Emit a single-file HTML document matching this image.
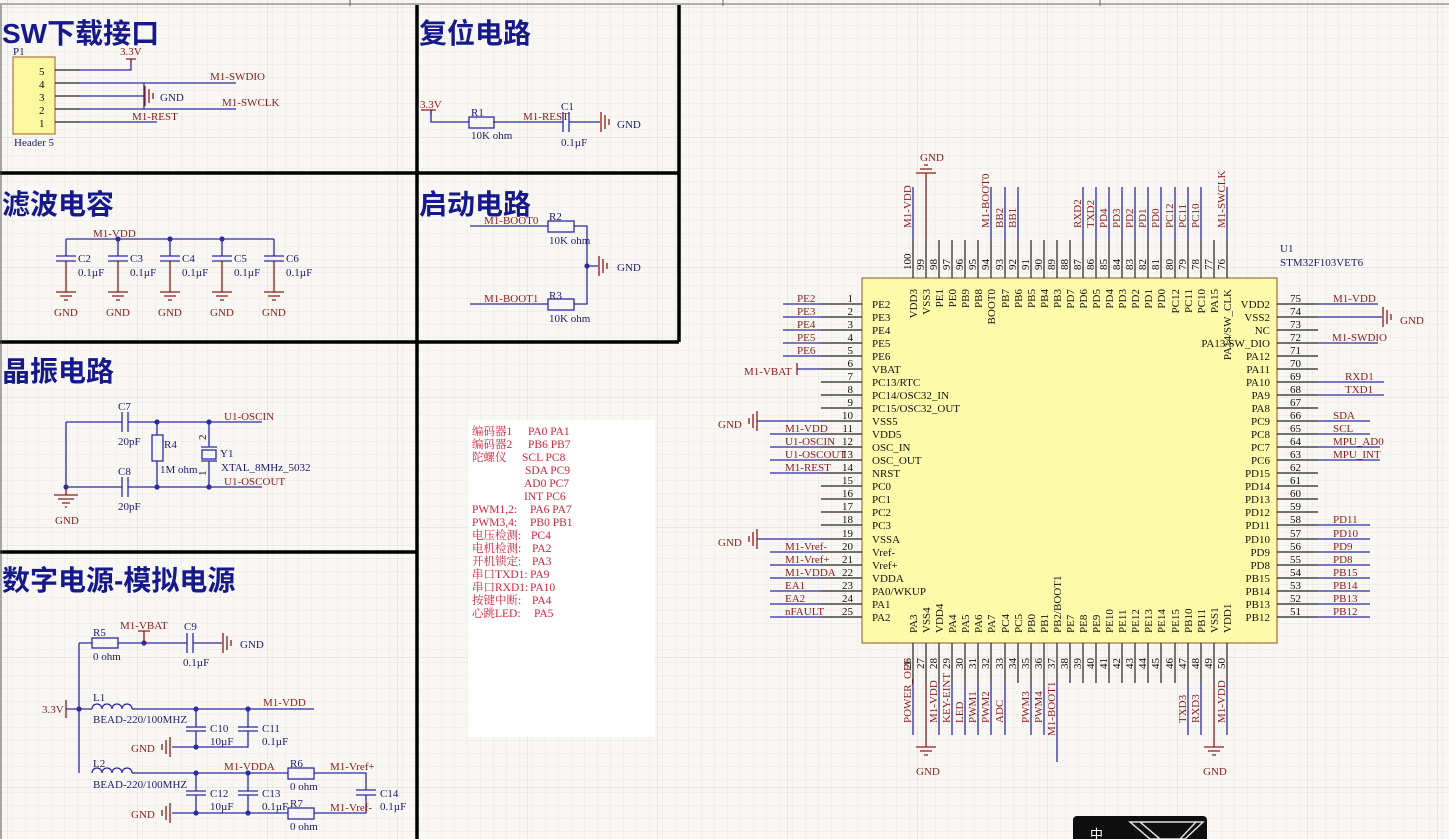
<!DOCTYPE html>
<html><head><meta charset="utf-8"><style>
html,body{margin:0;padding:0;width:1449px;height:839px;overflow:hidden;background:#f8f7f3}
svg{display:block}
text{font-family:"Liberation Serif","Noto Serif CJK SC",serif;font-size:11px}
.t{font-family:"Liberation Sans","Noto Sans CJK SC",sans-serif;font-size:28px;font-weight:bold;fill:#15198a}
.n{fill:#8a1c1c}
.c{fill:#1c1c6a}
.k{fill:#111}
.r{fill:#d0243c;font-size:11.5px}
.w{stroke:#2b2ba3;stroke-width:1.3;fill:none}
.p{stroke:#222;stroke-width:1.2;fill:none}
.g{stroke:#8a1c1c;stroke-width:1.3;fill:none}
.d{fill:#2b2ba3}
</style></head><body>
<svg width="1449" height="839" viewBox="0 0 1449 839" xmlns="http://www.w3.org/2000/svg">
<defs>
<pattern id="mi" width="13" height="13" patternUnits="userSpaceOnUse"><path d="M13 0V13H0" fill="none" stroke="#e9e7e1" stroke-width="1"/></pattern>
<pattern id="ma" width="130" height="130" patternUnits="userSpaceOnUse" x="8" y="8"><path d="M130 0V130H0" fill="none" stroke="#d9d7d1" stroke-width="1"/></pattern>
</defs>
<rect width="1449" height="839" fill="url(#mi)"/>
<rect width="1449" height="839" fill="url(#ma)"/>
<path d="M0 4H1449 M350 0V6 M723 0V6 M1100 0V6" stroke="#666" stroke-width="1"/>
<path d="M417 5V839 M679 5V342 M0 173H679 M0 342H679 M0 552H417" stroke="#000" stroke-width="3.5"/>
<path d="M1 5V839" stroke="#555" stroke-width="1"/>
<rect x="468" y="420" width="187" height="317" fill="#fff"/>
<text class="t" x="2" y="43">SW下载接口</text>
<text class="t" x="419" y="43">复位电路</text>
<text class="t" x="2" y="214">滤波电容</text>
<text class="t" x="419" y="214">启动电路</text>
<text class="t" x="2" y="381">晶振电路</text>
<text class="t" x="2" y="590">数字电源-模拟电源</text>

<rect x="13" y="57" width="42" height="77" fill="#fdf7a0" stroke="#b07838" stroke-width="1.2"/>
<text class="c" x="13" y="55">P1</text>
<text class="c" x="14" y="146">Header 5</text>
<text class="k" x="39" y="75">5</text><text class="k" x="39" y="88">4</text><text class="k" x="39" y="101">3</text><text class="k" x="39" y="114">2</text><text class="k" x="39" y="127">1</text>
<path class="p" d="M55 70H80 M55 83H80 M55 96H80 M55 109H80 M55 122H80"/>
<path class="w" d="M80 70H131V60 M80 83H236 M80 96H144 M80 109H236 M80 122H157 M144 83V109"/>
<path class="g" d="M126 59H136 M131 59V62 M145 86V106 M149 89V103 M153 93V99"/>
<text class="n" x="120" y="55">3.3V</text>
<text class="n" x="210" y="80">M1-SWDIO</text>
<text class="c" x="160" y="101">GND</text>
<text class="n" x="222" y="106">M1-SWCLK</text>
<text class="n" x="132" y="120">M1-REST</text>

<text class="n" x="420" y="108">3.3V</text>
<path class="g" d="M421 110H436 M431 110V115"/>
<path class="w" d="M431 110V122H469 M493 122H563 M569 122H600"/>
<rect x="469" y="117" width="25" height="11" fill="none" stroke="#2b2ba3" stroke-width="1.3"/>
<path class="w" d="M563 112V132 M569 112V132"/>
<path class="g" d="M601 112V132 M605 115V129 M609 119V125"/>
<text class="c" x="471" y="116">R1</text><text class="c" x="471" y="139">10K ohm</text>
<text class="n" x="523" y="120">M1-REST</text>
<text class="c" x="561" y="110">C1</text><text class="c" x="561" y="146">0.1µF</text>
<text class="c" x="617" y="128">GND</text>

<path class="w" d="M66 239H274 M66 239V256 M118 239V256 M170 239V256 M222 239V256 M274 239V256 M56 256H76 M56 261H76 M108 256H128 M108 261H128 M160 256H180 M160 261H180 M212 256H232 M212 261H232 M264 256H284 M264 261H284"/>
<path class="g" d="M66 261V292 M118 261V292 M170 261V292 M222 261V292 M274 261V292 M56 292H76 M60 296H72 M64 300H68 M108 292H128 M112 296H124 M116 300H120 M160 292H180 M164 296H176 M168 300H172 M212 292H232 M216 296H228 M220 300H224 M264 292H284 M268 296H280 M272 300H276"/>
<circle class="d" cx="118" cy="239" r="2.6"/><circle class="d" cx="170" cy="239" r="2.6"/><circle class="d" cx="222" cy="239" r="2.6"/>
<text class="n" x="93" y="237">M1-VDD</text>
<text class="c" x="78" y="262">C2</text><text class="c" x="78" y="276">0.1µF</text>
<text class="c" x="130" y="262">C3</text><text class="c" x="130" y="276">0.1µF</text>
<text class="c" x="182" y="262">C4</text><text class="c" x="182" y="276">0.1µF</text>
<text class="c" x="234" y="262">C5</text><text class="c" x="234" y="276">0.1µF</text>
<text class="c" x="286" y="262">C6</text><text class="c" x="286" y="276">0.1µF</text>
<text class="n" x="54" y="316">GND</text><text class="n" x="106" y="316">GND</text><text class="n" x="158" y="316">GND</text><text class="n" x="210" y="316">GND</text><text class="n" x="262" y="316">GND</text>

<path class="w" d="M470 226H548 M574 226H587V304H574 M548 304H470 M587 266H598"/>
<rect x="548" y="221" width="26" height="11" fill="none" stroke="#2b2ba3" stroke-width="1.3"/>
<rect x="548" y="299" width="26" height="11" fill="none" stroke="#2b2ba3" stroke-width="1.3"/>
<circle class="d" cx="587" cy="266" r="2.6"/>
<path class="g" d="M599 256V276 M603 259V273 M607 263V269"/>
<text class="n" x="484" y="224">M1-BOOT0</text>
<text class="c" x="549" y="220">R2</text><text class="c" x="549" y="244">10K ohm</text>
<text class="c" x="617" y="271">GND</text>
<text class="n" x="484" y="302">M1-BOOT1</text>
<text class="c" x="549" y="299">R3</text><text class="c" x="549" y="322">10K ohm</text>

<path class="w" d="M66 422H122 M128 422H262 M66 422V487H122 M128 487H262 M122 412V432 M128 412V432 M122 477V497 M128 477V497 M157 422V435 M157 461V487 M209 422V447 M209 461V487 M201 447H217 M201 461H217"/>
<rect x="152" y="435" width="11" height="26" fill="none" stroke="#2b2ba3" stroke-width="1.3"/>
<rect x="202" y="450" width="14" height="9" fill="none" stroke="#2b2ba3" stroke-width="1.3"/>
<circle class="d" cx="157" cy="422" r="2.6"/><circle class="d" cx="209" cy="422" r="2.6"/><circle class="d" cx="157" cy="487" r="2.6"/><circle class="d" cx="209" cy="487" r="2.6"/><circle class="d" cx="66" cy="487" r="2.6"/>
<path class="g" d="M66 487V495 M54 495H78 M58 499H74 M62 503H70 M65 507H67"/>
<text class="c" x="118" y="410">C7</text><text class="c" x="118" y="445">20pF</text>
<text class="c" x="164" y="448">R4</text><text class="c" x="160" y="473">1M ohm</text>
<text class="k" transform="translate(206,440) rotate(-90)">2</text>
<text class="k" transform="translate(206,476) rotate(-90)">1</text>
<text class="c" x="220" y="457">Y1</text><text class="c" x="221" y="471">XTAL_8MHz_5032</text>
<text class="n" x="224" y="420">U1-OSCIN</text>
<text class="n" x="224" y="485">U1-OSCOUT</text>
<text class="c" x="118" y="475">C8</text><text class="c" x="118" y="510">20pF</text>
<text class="n" x="55" y="524">GND</text>

<path class="w" d="M79 643H92 M118 643H187 M193 643H222 M187 633V653 M193 633V653 M79 643V773 M66 709H92 M132 709H314 M132 773H288 M314 773H366V790 M366 795V813H314 M288 813H172 M196 709V727 M196 731V747 M248 709V727 M248 731V747H172 M186 727H206 M186 731H206 M238 727H258 M238 731H258 M196 773V791 M196 795V813 M248 773V791 M248 795V813 M186 791H206 M186 795H206 M238 791H258 M238 795H258 M356 790H376 M356 795H376"/>
<rect x="92" y="638" width="26" height="10" fill="none" stroke="#2b2ba3" stroke-width="1.3"/>
<rect x="288" y="768" width="26" height="11" fill="none" stroke="#2b2ba3" stroke-width="1.3"/>
<rect x="288" y="808" width="26" height="11" fill="none" stroke="#2b2ba3" stroke-width="1.3"/>
<path class="w" d="M92 709a5 5 0 0 1 10 0a5 5 0 0 1 10 0a5 5 0 0 1 10 0a5 5 0 0 1 10 0 M92 773a5 5 0 0 1 10 0a5 5 0 0 1 10 0a5 5 0 0 1 10 0a5 5 0 0 1 10 0"/>
<circle class="d" cx="144" cy="643" r="2.6"/><circle class="d" cx="79" cy="709" r="2.6"/>
<circle class="d" cx="196" cy="709" r="2.6"/><circle class="d" cx="248" cy="709" r="2.6"/><circle class="d" cx="196" cy="747" r="2.6"/>
<circle class="d" cx="196" cy="773" r="2.6"/><circle class="d" cx="248" cy="773" r="2.6"/><circle class="d" cx="196" cy="813" r="2.6"/><circle class="d" cx="248" cy="813" r="2.6"/>
<path class="g" d="M138 631H150 M144 631V643 M223 633V653 M227 636V650 M231 640V646 M66 700V718 M170 737V757 M166 740V754 M162 744V750 M170 803V823 M166 806V820 M162 810V816"/>
<text class="c" x="93" y="636">R5</text><text class="c" x="93" y="660">0 ohm</text>
<text class="n" x="120" y="629">M1-VBAT</text>
<text class="c" x="184" y="630">C9</text><text class="c" x="183" y="666">0.1µF</text>
<text class="c" x="240" y="648">GND</text>
<text class="n" x="42" y="713">3.3V</text>
<text class="c" x="93" y="701">L1</text><text class="c" x="93" y="723">BEAD-220/100MHZ</text>
<text class="n" x="263" y="706">M1-VDD</text>
<text class="c" x="210" y="732">C10</text><text class="c" x="210" y="745">10µF</text>
<text class="c" x="262" y="732">C11</text><text class="c" x="262" y="745">0.1µF</text>
<text class="n" x="131" y="752">GND</text>
<text class="c" x="93" y="767">L2</text><text class="c" x="93" y="788">BEAD-220/100MHZ</text>
<text class="n" x="224" y="770">M1-VDDA</text>
<text class="c" x="290" y="767">R6</text><text class="c" x="290" y="790">0 ohm</text>
<text class="n" x="330" y="770">M1-Vref+</text>
<text class="c" x="210" y="797">C12</text><text class="c" x="210" y="810">10µF</text>
<text class="c" x="262" y="797">C13</text><text class="c" x="262" y="810">0.1µF</text>
<text class="c" x="290" y="807">R7</text><text class="c" x="290" y="830">0 ohm</text>
<text class="n" x="330" y="811">M1-Vref-</text>
<text class="c" x="380" y="797">C14</text><text class="c" x="380" y="810">0.1µF</text>
<text class="n" x="131" y="818">GND</text>

<g class="r">
<text class="r" x="472" y="435">编码器1</text><text class="r" x="528" y="435">PA0 PA1</text>
<text class="r" x="472" y="448">编码器2</text><text class="r" x="528" y="448">PB6 PB7</text>
<text class="r" x="472" y="461">陀螺仪</text><text class="r" x="522" y="461">SCL PC8</text>
<text class="r" x="525" y="474">SDA PC9</text>
<text class="r" x="524" y="487">AD0 PC7</text>
<text class="r" x="524" y="500">INT  PC6</text>
<text class="r" x="472" y="513">PWM1,2:</text><text class="r" x="530" y="513">PA6 PA7</text>
<text class="r" x="472" y="526">PWM3,4:</text><text class="r" x="530" y="526">PB0 PB1</text>
<text class="r" x="472" y="539">电压检测:</text><text class="r" x="531" y="539">PC4</text>
<text class="r" x="472" y="552">电机检测:</text><text class="r" x="532" y="552">PA2</text>
<text class="r" x="472" y="565">开机锁定:</text><text class="r" x="532" y="565">PA3</text>
<text class="r" x="472" y="578">串口TXD1:</text><text class="r" x="530" y="578">PA9</text>
<text class="r" x="472" y="591">串口RXD1:</text><text class="r" x="530" y="591">PA10</text>
<text class="r" x="472" y="604">按键中断:</text><text class="r" x="532" y="604">PA4</text>
<text class="r" x="472" y="617">心跳LED:</text><text class="r" x="534" y="617">PA5</text>
</g>

<rect x="862" y="278" width="415" height="365" fill="#fdfbaa" stroke="#a07040" stroke-width="1.2"/>
<text class="c" x="1280" y="252">U1</text><text class="c" x="1280" y="266">STM32F103VET6</text>
<path class="p" d="M821 304H862 M821 317H862 M821 330H862 M821 343H862 M821 356H862 M821 369H862 M821 382H862 M821 395H862 M821 408H862 M821 421H862 M821 434H862 M821 447H862 M821 460H862 M821 473H862 M821 486H862 M821 499H862 M821 512H862 M821 525H862 M821 539H862 M821 552H862 M821 565H862 M821 578H862 M821 591H862 M821 604H862 M821 617H862
M1277 304H1318 M1277 317H1318 M1277 330H1318 M1277 343H1318 M1277 356H1318 M1277 369H1318 M1277 382H1318 M1277 395H1318 M1277 408H1318 M1277 421H1318 M1277 434H1318 M1277 447H1318 M1277 460H1318 M1277 473H1318 M1277 486H1318 M1277 499H1318 M1277 512H1318 M1277 525H1318 M1277 539H1318 M1277 552H1318 M1277 565H1318 M1277 578H1318 M1277 591H1318 M1277 604H1318 M1277 617H1318
M913 240V278 M926 240V278 M939 240V278 M952 240V278 M965 240V278 M978 240V278 M991 240V278 M1005 240V278 M1018 240V278 M1031 240V278 M1044 240V278 M1057 240V278 M1070 240V278 M1083 240V278 M1096 240V278 M1109 240V278 M1122 240V278 M1135 240V278 M1148 240V278 M1161 240V278 M1175 240V278 M1188 240V278 M1201 240V278 M1214 240V278 M1227 240V278
M913 643V683 M926 643V683 M939 643V683 M952 643V683 M965 643V683 M978 643V683 M991 643V683 M1005 643V683 M1018 643V683 M1031 643V683 M1044 643V683 M1057 643V683 M1070 643V683 M1083 643V683 M1096 643V683 M1109 643V683 M1122 643V683 M1135 643V683 M1148 643V683 M1161 643V683 M1175 643V683 M1188 643V683 M1201 643V683 M1214 643V683 M1227 643V683"/>
<path class="w" d="M783 304H821 M783 317H821 M783 330H821 M783 343H821 M783 356H821 M770 434H821 M770 447H821 M770 460H821 M770 473H821 M770 552H821 M770 565H821 M770 578H821 M770 591H821 M770 604H821 M770 617H821 M757 421H821 M757 539H821 M797 369H821
M1318 304H1378 M1318 317H1382 M1318 343H1378 M1318 382H1384 M1318 395H1384 M1318 421H1370 M1318 434H1370 M1318 447H1380 M1318 460H1380 M1318 525H1370 M1318 539H1370 M1318 552H1370 M1318 565H1370 M1318 578H1370 M1318 591H1370 M1318 604H1370 M1318 617H1370
M913 187V240 M991 187V240 M1005 187V240 M1018 187V240 M1083 187V240 M1096 187V240 M1109 187V240 M1122 187V240 M1135 187V240 M1148 187V240 M1161 187V240 M1175 187V240 M1188 187V240 M1201 187V240 M1227 187V240
M913 683V735 M939 683V735 M952 683V735 M965 683V735 M978 683V735 M991 683V735 M1005 683V735 M1031 683V735 M1044 683V735 M1057 683V762 M1188 683V735 M1201 683V735 M1227 683V735"/>
<path class="g" d="M926 240V173 M916 173H936 M920 169H932 M924 165H928 M926 683V747 M916 747H936 M920 751H932 M924 755H928 M1214 683V747 M1204 747H1224 M1208 751H1220 M1212 755H1216 M797 363V375 M757 411V431 M753 414V428 M749 418V424 M757 529V549 M753 532V546 M749 536V542 M1383 307V327 M1387 310V324 M1391 314V320"/>
<text class="n" x="920" y="161">GND</text>
<text class="n" x="916" y="775">GND</text>
<text class="n" x="1203" y="775">GND</text>
<text class="n" x="718" y="428">GND</text>
<text class="n" x="718" y="546">GND</text>
<text class="n" x="1400" y="324">GND</text>
<g class="n">
<text class="n" x="797" y="302">PE2</text><text class="n" x="797" y="315">PE3</text><text class="n" x="797" y="328">PE4</text><text class="n" x="797" y="341">PE5</text><text class="n" x="797" y="354">PE6</text>
<text class="n" x="744" y="375">M1-VBAT</text>
<text class="n" x="785" y="432">M1-VDD</text><text class="n" x="785" y="445">U1-OSCIN</text><text class="n" x="785" y="458">U1-OSCOUT</text><text class="n" x="785" y="471">M1-REST</text>
<text class="n" x="785" y="550">M1-Vref-</text><text class="n" x="785" y="563">M1-Vref+</text><text class="n" x="785" y="576">M1-VDDA</text><text class="n" x="785" y="589">EA1</text><text class="n" x="785" y="602">EA2</text><text class="n" x="785" y="615">nFAULT</text>
</g>
<g text-anchor="end">
<text class="k" x="853" y="302">1</text><text class="k" x="853" y="315">2</text><text class="k" x="853" y="328">3</text><text class="k" x="853" y="341">4</text><text class="k" x="853" y="354">5</text><text class="k" x="853" y="367">6</text><text class="k" x="853" y="380">7</text><text class="k" x="853" y="393">8</text><text class="k" x="853" y="406">9</text><text class="k" x="853" y="419">10</text><text class="k" x="853" y="432">11</text><text class="k" x="853" y="445">12</text><text class="k" x="853" y="458">13</text><text class="k" x="853" y="471">14</text><text class="k" x="853" y="484">15</text><text class="k" x="853" y="497">16</text><text class="k" x="853" y="510">17</text><text class="k" x="853" y="523">18</text><text class="k" x="853" y="537">19</text><text class="k" x="853" y="550">20</text><text class="k" x="853" y="563">21</text><text class="k" x="853" y="576">22</text><text class="k" x="853" y="589">23</text><text class="k" x="853" y="602">24</text><text class="k" x="853" y="615">25</text>
</g>
<text class="k" x="872" y="308">PE2</text><text class="k" x="872" y="321">PE3</text><text class="k" x="872" y="334">PE4</text><text class="k" x="872" y="347">PE5</text><text class="k" x="872" y="360">PE6</text><text class="k" x="872" y="373">VBAT</text><text class="k" x="872" y="386">PC13/RTC</text><text class="k" x="872" y="399">PC14/OSC32_IN</text><text class="k" x="872" y="412">PC15/OSC32_OUT</text><text class="k" x="872" y="425">VSS5</text><text class="k" x="872" y="438">VDD5</text><text class="k" x="872" y="451">OSC_IN</text><text class="k" x="872" y="464">OSC_OUT</text><text class="k" x="872" y="477">NRST</text><text class="k" x="872" y="490">PC0</text><text class="k" x="872" y="503">PC1</text><text class="k" x="872" y="516">PC2</text><text class="k" x="872" y="529">PC3</text><text class="k" x="872" y="543">VSSA</text><text class="k" x="872" y="556">Vref-</text><text class="k" x="872" y="569">Vref+</text><text class="k" x="872" y="582">VDDA</text><text class="k" x="872" y="595">PA0/WKUP</text><text class="k" x="872" y="608">PA1</text><text class="k" x="872" y="621">PA2</text>
<g text-anchor="end">
<text class="k" x="1270" y="308">VDD2</text><text class="k" x="1270" y="321">VSS2</text><text class="k" x="1270" y="334">NC</text><text class="k" x="1270" y="347">PA13/SW_DIO</text><text class="k" x="1270" y="360">PA12</text><text class="k" x="1270" y="373">PA11</text><text class="k" x="1270" y="386">PA10</text><text class="k" x="1270" y="399">PA9</text><text class="k" x="1270" y="412">PA8</text><text class="k" x="1270" y="425">PC9</text><text class="k" x="1270" y="438">PC8</text><text class="k" x="1270" y="451">PC7</text><text class="k" x="1270" y="464">PC6</text><text class="k" x="1270" y="477">PD15</text><text class="k" x="1270" y="490">PD14</text><text class="k" x="1270" y="503">PD13</text><text class="k" x="1270" y="516">PD12</text><text class="k" x="1270" y="529">PD11</text><text class="k" x="1270" y="543">PD10</text><text class="k" x="1270" y="556">PD9</text><text class="k" x="1270" y="569">PD8</text><text class="k" x="1270" y="582">PB15</text><text class="k" x="1270" y="595">PB14</text><text class="k" x="1270" y="608">PB13</text><text class="k" x="1270" y="621">PB12</text>
</g>
<text class="k" x="1290" y="302">75</text><text class="k" x="1290" y="315">74</text><text class="k" x="1290" y="328">73</text><text class="k" x="1290" y="341">72</text><text class="k" x="1290" y="354">71</text><text class="k" x="1290" y="367">70</text><text class="k" x="1290" y="380">69</text><text class="k" x="1290" y="393">68</text><text class="k" x="1290" y="406">67</text><text class="k" x="1290" y="419">66</text><text class="k" x="1290" y="432">65</text><text class="k" x="1290" y="445">64</text><text class="k" x="1290" y="458">63</text><text class="k" x="1290" y="471">62</text><text class="k" x="1290" y="484">61</text><text class="k" x="1290" y="497">60</text><text class="k" x="1290" y="510">59</text><text class="k" x="1290" y="523">58</text><text class="k" x="1290" y="537">57</text><text class="k" x="1290" y="550">56</text><text class="k" x="1290" y="563">55</text><text class="k" x="1290" y="576">54</text><text class="k" x="1290" y="589">53</text><text class="k" x="1290" y="602">52</text><text class="k" x="1290" y="615">51</text>
<text class="n" x="1333" y="302">M1-VDD</text><text class="n" x="1332" y="341">M1-SWDIO</text><text class="n" x="1345" y="380">RXD1</text><text class="n" x="1345" y="393">TXD1</text><text class="n" x="1333" y="419">SDA</text><text class="n" x="1333" y="432">SCL</text><text class="n" x="1333" y="445">MPU_AD0</text><text class="n" x="1333" y="458">MPU_INT</text>
<text class="n" x="1333" y="523">PD11</text><text class="n" x="1333" y="537">PD10</text><text class="n" x="1333" y="550">PD9</text><text class="n" x="1333" y="563">PD8</text><text class="n" x="1333" y="576">PB15</text><text class="n" x="1333" y="589">PB14</text><text class="n" x="1333" y="602">PB13</text><text class="n" x="1333" y="615">PB12</text>
<g text-anchor="end">
<text class="k" transform="translate(917,289) rotate(-90)">VDD3</text><text class="k" transform="translate(930,289) rotate(-90)">VSS3</text><text class="k" transform="translate(943,289) rotate(-90)">PE1</text><text class="k" transform="translate(956,289) rotate(-90)">PE0</text><text class="k" transform="translate(969,289) rotate(-90)">PB9</text><text class="k" transform="translate(982,289) rotate(-90)">PB8</text><text class="k" transform="translate(995,289) rotate(-90)">BOOT0</text><text class="k" transform="translate(1009,289) rotate(-90)">PB7</text><text class="k" transform="translate(1022,289) rotate(-90)">PB6</text><text class="k" transform="translate(1035,289) rotate(-90)">PB5</text><text class="k" transform="translate(1048,289) rotate(-90)">PB4</text><text class="k" transform="translate(1061,289) rotate(-90)">PB3</text><text class="k" transform="translate(1074,289) rotate(-90)">PD7</text><text class="k" transform="translate(1087,289) rotate(-90)">PD6</text><text class="k" transform="translate(1100,289) rotate(-90)">PD5</text><text class="k" transform="translate(1113,289) rotate(-90)">PD4</text><text class="k" transform="translate(1126,289) rotate(-90)">PD3</text><text class="k" transform="translate(1139,289) rotate(-90)">PD2</text><text class="k" transform="translate(1152,289) rotate(-90)">PD1</text><text class="k" transform="translate(1165,289) rotate(-90)">PD0</text><text class="k" transform="translate(1179,289) rotate(-90)">PC12</text><text class="k" transform="translate(1192,289) rotate(-90)">PC11</text><text class="k" transform="translate(1205,289) rotate(-90)">PC10</text><text class="k" transform="translate(1218,289) rotate(-90)">PA15</text><text class="k" transform="translate(1231,289) rotate(-90)">PA14/SW_CLK</text>
</g>
<g>
<text class="k" transform="translate(911,270) rotate(-90)">100</text><text class="k" transform="translate(924,270) rotate(-90)">99</text><text class="k" transform="translate(937,270) rotate(-90)">98</text><text class="k" transform="translate(950,270) rotate(-90)">97</text><text class="k" transform="translate(963,270) rotate(-90)">96</text><text class="k" transform="translate(976,270) rotate(-90)">95</text><text class="k" transform="translate(989,270) rotate(-90)">94</text><text class="k" transform="translate(1003,270) rotate(-90)">93</text><text class="k" transform="translate(1016,270) rotate(-90)">92</text><text class="k" transform="translate(1029,270) rotate(-90)">91</text><text class="k" transform="translate(1042,270) rotate(-90)">90</text><text class="k" transform="translate(1055,270) rotate(-90)">89</text><text class="k" transform="translate(1068,270) rotate(-90)">88</text><text class="k" transform="translate(1081,270) rotate(-90)">87</text><text class="k" transform="translate(1094,270) rotate(-90)">86</text><text class="k" transform="translate(1107,270) rotate(-90)">85</text><text class="k" transform="translate(1120,270) rotate(-90)">84</text><text class="k" transform="translate(1133,270) rotate(-90)">83</text><text class="k" transform="translate(1146,270) rotate(-90)">82</text><text class="k" transform="translate(1159,270) rotate(-90)">81</text><text class="k" transform="translate(1173,270) rotate(-90)">80</text><text class="k" transform="translate(1186,270) rotate(-90)">79</text><text class="k" transform="translate(1199,270) rotate(-90)">78</text><text class="k" transform="translate(1212,270) rotate(-90)">77</text><text class="k" transform="translate(1225,270) rotate(-90)">76</text>
</g>
<text class="n" transform="translate(911,228) rotate(-90)">M1-VDD</text><text class="n" transform="translate(989,228) rotate(-90)">M1-BOOT0</text><text class="n" transform="translate(1003,228) rotate(-90)">BB2</text><text class="n" transform="translate(1016,228) rotate(-90)">BB1</text><text class="n" transform="translate(1081,228) rotate(-90)">RXD2</text><text class="n" transform="translate(1094,228) rotate(-90)">TXD2</text><text class="n" transform="translate(1107,228) rotate(-90)">PD4</text><text class="n" transform="translate(1120,228) rotate(-90)">PD3</text><text class="n" transform="translate(1133,228) rotate(-90)">PD2</text><text class="n" transform="translate(1146,228) rotate(-90)">PD1</text><text class="n" transform="translate(1159,228) rotate(-90)">PD0</text><text class="n" transform="translate(1173,228) rotate(-90)">PC12</text><text class="n" transform="translate(1186,228) rotate(-90)">PC11</text><text class="n" transform="translate(1199,228) rotate(-90)">PC10</text><text class="n" transform="translate(1225,228) rotate(-90)">M1-SWCLK</text>
<text class="k" transform="translate(917,633) rotate(-90)">PA3</text><text class="k" transform="translate(930,633) rotate(-90)">VSS4</text><text class="k" transform="translate(943,633) rotate(-90)">VDD4</text><text class="k" transform="translate(956,633) rotate(-90)">PA4</text><text class="k" transform="translate(969,633) rotate(-90)">PA5</text><text class="k" transform="translate(982,633) rotate(-90)">PA6</text><text class="k" transform="translate(995,633) rotate(-90)">PA7</text><text class="k" transform="translate(1009,633) rotate(-90)">PC4</text><text class="k" transform="translate(1022,633) rotate(-90)">PC5</text><text class="k" transform="translate(1035,633) rotate(-90)">PB0</text><text class="k" transform="translate(1048,633) rotate(-90)">PB1</text><text class="k" transform="translate(1061,633) rotate(-90)">PB2/BOOT1</text><text class="k" transform="translate(1074,633) rotate(-90)">PE7</text><text class="k" transform="translate(1087,633) rotate(-90)">PE8</text><text class="k" transform="translate(1100,633) rotate(-90)">PE9</text><text class="k" transform="translate(1113,633) rotate(-90)">PE10</text><text class="k" transform="translate(1126,633) rotate(-90)">PE11</text><text class="k" transform="translate(1139,633) rotate(-90)">PE12</text><text class="k" transform="translate(1152,633) rotate(-90)">PE13</text><text class="k" transform="translate(1165,633) rotate(-90)">PE14</text><text class="k" transform="translate(1179,633) rotate(-90)">PE15</text><text class="k" transform="translate(1192,633) rotate(-90)">PB10</text><text class="k" transform="translate(1205,633) rotate(-90)">PB11</text><text class="k" transform="translate(1218,633) rotate(-90)">VSS1</text><text class="k" transform="translate(1231,633) rotate(-90)">VDD1</text>
<text class="k" transform="translate(911,669) rotate(-90)">26</text><text class="k" transform="translate(924,669) rotate(-90)">27</text><text class="k" transform="translate(937,669) rotate(-90)">28</text><text class="k" transform="translate(950,669) rotate(-90)">29</text><text class="k" transform="translate(963,669) rotate(-90)">30</text><text class="k" transform="translate(976,669) rotate(-90)">31</text><text class="k" transform="translate(989,669) rotate(-90)">32</text><text class="k" transform="translate(1003,669) rotate(-90)">33</text><text class="k" transform="translate(1016,669) rotate(-90)">34</text><text class="k" transform="translate(1029,669) rotate(-90)">35</text><text class="k" transform="translate(1042,669) rotate(-90)">36</text><text class="k" transform="translate(1055,669) rotate(-90)">37</text><text class="k" transform="translate(1068,669) rotate(-90)">38</text><text class="k" transform="translate(1081,669) rotate(-90)">39</text><text class="k" transform="translate(1094,669) rotate(-90)">40</text><text class="k" transform="translate(1107,669) rotate(-90)">41</text><text class="k" transform="translate(1120,669) rotate(-90)">42</text><text class="k" transform="translate(1133,669) rotate(-90)">43</text><text class="k" transform="translate(1146,669) rotate(-90)">44</text><text class="k" transform="translate(1159,669) rotate(-90)">45</text><text class="k" transform="translate(1173,669) rotate(-90)">46</text><text class="k" transform="translate(1186,669) rotate(-90)">47</text><text class="k" transform="translate(1199,669) rotate(-90)">48</text><text class="k" transform="translate(1212,669) rotate(-90)">49</text><text class="k" transform="translate(1225,669) rotate(-90)">50</text>
<text class="n" transform="translate(911,723) rotate(-90)">POWER_OFF</text><text class="n" transform="translate(937,723) rotate(-90)">M1-VDD</text><text class="n" transform="translate(950,723) rotate(-90)">KEY-EINT</text><text class="n" transform="translate(963,723) rotate(-90)">LED</text><text class="n" transform="translate(976,723) rotate(-90)">PWM1</text><text class="n" transform="translate(989,723) rotate(-90)">PWM2</text><text class="n" transform="translate(1003,723) rotate(-90)">ADC</text><text class="n" transform="translate(1029,723) rotate(-90)">PWM3</text><text class="n" transform="translate(1042,723) rotate(-90)">PWM4</text><text class="n" transform="translate(1055,736) rotate(-90)">M1-BOOT1</text><text class="n" transform="translate(1186,723) rotate(-90)">TXD3</text><text class="n" transform="translate(1199,723) rotate(-90)">RXD3</text><text class="n" transform="translate(1225,723) rotate(-90)">M1-VDD</text>
<rect x="1073" y="816" width="134" height="30" rx="4" fill="#0e0e0e"/>
<text x="1090" y="839" fill="#fff" style="font-size:13px;font-family:'Noto Sans CJK SC',sans-serif">中</text>
<path d="M1130 822H1203L1185 839H1150Z M1140 822L1160 839 M1196 822L1180 839" stroke="#ddd" stroke-width="1.5" fill="none"/>
</svg>
</body></html>
